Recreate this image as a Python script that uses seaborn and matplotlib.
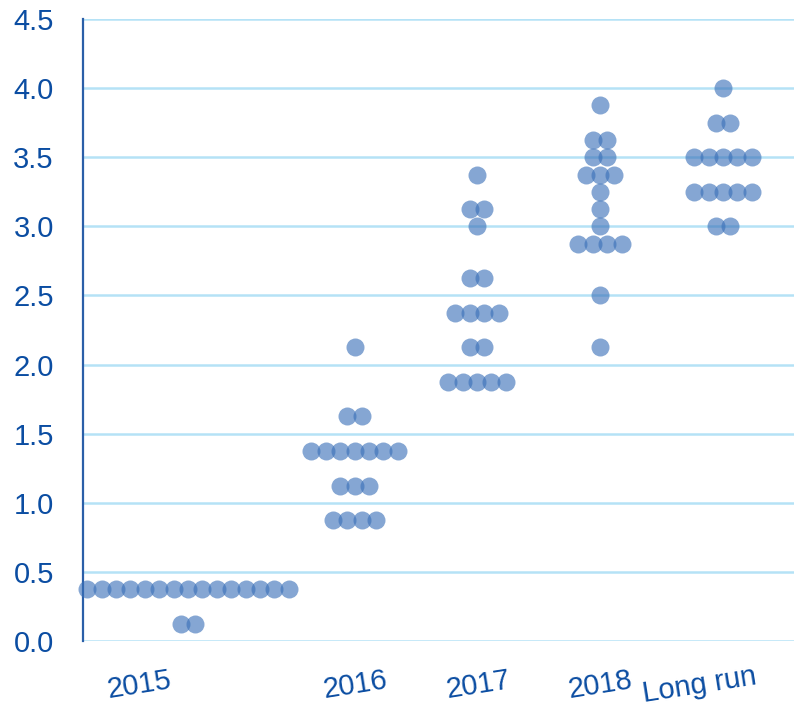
"""
plot.py
FOMC-style dot plot: each participant's view of the appropriate policy
rate at the end of each year and in the longer run.
"""

import matplotlib
matplotlib.use("Agg")
import matplotlib.pyplot as plt
import numpy as np
import pandas as pd
import seaborn as sns


# Data: (rate, number of participants) per period

PERIODS = ["2015", "2016", "2017", "2018", "Long run"]

RATES_2015 = [0.375, 0.125]
COUNTS_2015 = [15, 2]

RATES_2016 = [2.125, 1.625, 1.375, 1.125, 0.875]
COUNTS_2016 = [1, 2, 7, 3, 4]

RATES_2017 = [3.375, 3.125, 3.0, 2.625, 2.375, 2.125, 1.875]
COUNTS_2017 = [1, 2, 1, 2, 4, 2, 5]

RATES_2018 = [3.875, 3.625, 3.5, 3.375, 3.25, 3.125, 3.0, 2.875, 2.5, 2.125]
COUNTS_2018 = [1, 2, 2, 3, 1, 1, 1, 4, 1, 1]

RATES_LR = [4.0, 3.75, 3.5, 3.25, 3.0]
COUNTS_LR = [1, 2, 5, 5, 2]

Y_TICKS = [0.0, 0.5, 1.0, 1.5, 2.0, 2.5, 3.0, 3.5, 4.0, 4.5]


# Layout (x axis is in pixel-like units measured from the left spine)

GROUP_X = [105, 271.5, 394, 517, 640]
LABEL_X = [56, 272, 395, 517, 617]
DOT_STEP = 14.4

DOT_COLOR = "#3a70b8"
GRID_COLOR = "#b5e2f6"
TEXT_COLOR = "#0b4da2"
SPINE_COLOR = "#2b5fa8"


def build_frame() -> pd.DataFrame:
    groups = [
        (RATES_2015, COUNTS_2015),
        (RATES_2016, COUNTS_2016),
        (RATES_2017, COUNTS_2017),
        (RATES_2018, COUNTS_2018),
        (RATES_LR, COUNTS_LR),
    ]
    rows = []
    for period, cx, (rates, counts) in zip(PERIODS, GROUP_X, groups):
        for rate, n in zip(rates, counts):
            # spread the n dots of one rate evenly around the column centre
            offsets = (np.arange(n) - (n - 1) / 2) * DOT_STEP
            for off in offsets:
                rows.append({"period": period, "x": cx + off, "rate": rate})
    return pd.DataFrame(rows)


df = build_frame()

sns.set_style("white")
plt.rcParams["font.family"] = ["Liberation Sans", "DejaVu Sans"]

fig = plt.figure(figsize=(7.94, 7.11), dpi=100)
ax = fig.add_axes([83 / 794, 1 - 641 / 711, 1 - 83 / 794, (641 - 19) / 711])

for y in Y_TICKS:
    ax.axhline(y, color=GRID_COLOR, lw=1.8, zorder=0)

sns.scatterplot(
    data=df, x="x", y="rate", ax=ax,
    color=DOT_COLOR, alpha=0.62, s=168, linewidth=0, zorder=3,
    legend=False,
)

ax.set_xlim(0, 711)
ax.set_ylim(0, 4.5)
ax.set_yticks(Y_TICKS, [f"{v:.1f}" for v in Y_TICKS])
ax.set_xticks(LABEL_X, PERIODS)
ax.set_xlabel("")
ax.set_ylabel("")

ax.tick_params(axis="y", length=0, pad=21, labelsize=21, labelcolor=TEXT_COLOR)
ax.tick_params(axis="x", length=0, pad=32, labelsize=21, labelcolor=TEXT_COLOR)
for lbl in ax.get_xticklabels():
    lbl.set_rotation(9)
    lbl.set_rotation_mode("anchor")
    lbl.set_ha("center")
    lbl.set_va("center")

for side in ["top", "right", "bottom"]:
    ax.spines[side].set_visible(False)
ax.spines["left"].set_color(SPINE_COLOR)
ax.spines["left"].set_linewidth(1.6)
for coll in ax.collections:
    coll.set_clip_on(False)

fig.savefig("out.png", dpi=100)
plt.close(fig)
